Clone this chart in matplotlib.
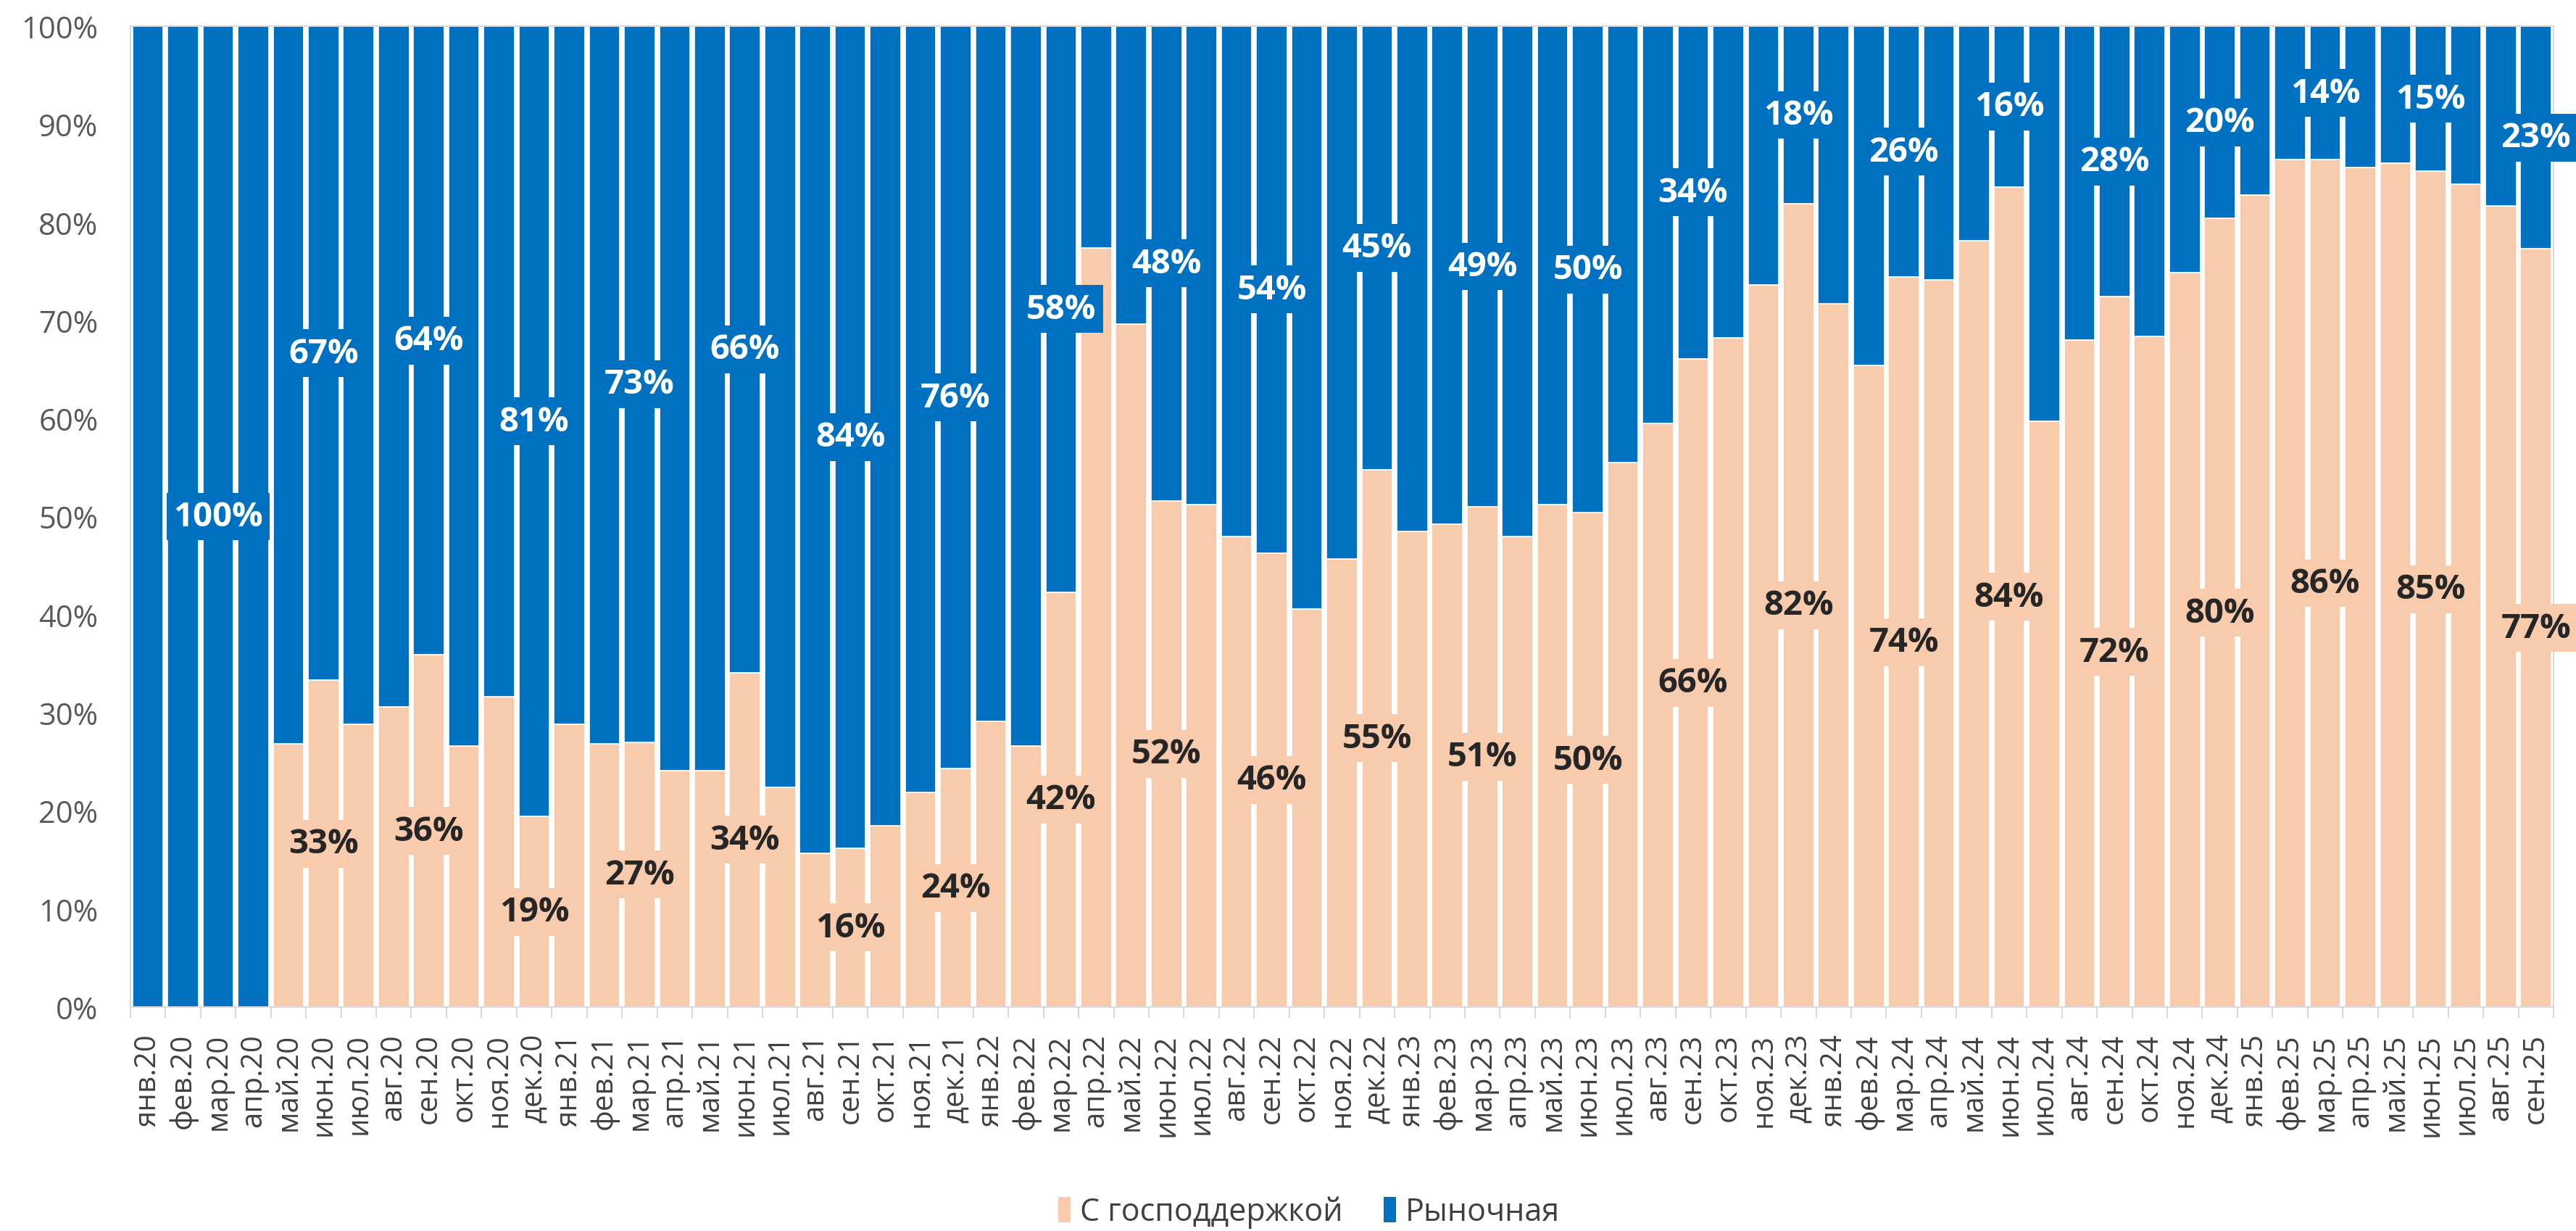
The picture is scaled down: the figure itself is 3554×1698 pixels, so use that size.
import matplotlib.pyplot as plt
from matplotlib.patches import Patch

plt.rcParams['font.family'] = ['Open Sans', 'DejaVu Sans']

months = ['янв', 'фев', 'мар', 'апр', 'май', 'июн', 'июл', 'авг', 'сен', 'окт', 'ноя', 'дек']
labels = []
for yy in range(20, 26):
    for m in months:
        labels.append(f'{m}.{yy}')
labels = labels[:69]

# доля ипотеки с господдержкой, %
state = [0, 0, 0, 0, 26.8, 33.3, 28.8, 30.6, 35.9, 26.6, 31.6, 19.4,
         28.8, 26.8, 27.0, 24.1, 24.1, 34.1, 22.4, 15.7, 16.2, 18.5, 21.9, 24.3,
         29.1, 26.6, 42.3, 77.4, 69.6, 51.6, 51.2, 48.0, 46.3, 40.6, 45.7, 54.8,
         48.5, 49.2, 51.0, 48.0, 51.2, 50.4, 55.5, 59.5, 66.1, 68.2, 73.6, 81.9,
         71.7, 65.4, 74.4, 74.1, 78.1, 83.6, 59.7, 68.0, 72.4, 68.4, 74.9, 80.4,
         82.8, 86.4, 86.4, 85.6, 86.0, 85.2, 83.9, 81.7, 77.3]
market = [100 - v for v in state]

c_state = '#F8CBAD'
c_market = '#0070C0'

fig = plt.figure(figsize=(35.55, 16.99), dpi=100)
ax = fig.add_axes([0.0506, 0.1819, 0.9404, 0.7963])

x = list(range(len(labels)))
s = [v / 100 for v in state]
m = [v / 100 for v in market]
ax.bar(x, s, width=0.88, color=c_state, edgecolor='white', linewidth=1.2)
ax.bar(x, m, width=0.88, bottom=s, color=c_market, edgecolor='white', linewidth=1.2)

# подписи на конец квартала
for i in range(2, len(labels), 3):
    if state[i] > 0:
        ax.text(i, s[i] / 2, f'{round(state[i])}%', ha='center', va='center',
                fontsize=34, fontweight='bold', color='#262626',
                bbox=dict(boxstyle='square,pad=0.2', fc=c_state, ec='none'))
    ax.text(i, s[i] + m[i] / 2, f'{round(market[i])}%', ha='center', va='center',
            fontsize=34, fontweight='bold', color='white',
            bbox=dict(boxstyle='square,pad=0.2', fc=c_market, ec='none'))

ax.set_xlim(-0.5, len(labels) - 0.5)
ax.set_ylim(0, 1)
ax.set_yticks([i / 10 for i in range(11)])
ax.set_yticklabels([f'{i * 10}%' for i in range(11)])
ax.tick_params(axis='y', length=0, pad=32, labelsize=30, labelcolor='#595959')

ax.set_xticks(x)
ax.set_xticklabels(labels, rotation=90)
ax.tick_params(axis='x', which='major', length=0, pad=26, labelsize=29, labelcolor='#404040')
ax.set_xticks([i - 0.5 for i in range(len(labels) + 1)], minor=True)
ax.tick_params(axis='x', which='minor', length=11, width=1.5, color='#D9D9D9')

for sp in ax.spines.values():
    sp.set_color('#D9D9D9')
    sp.set_linewidth(1.5)

handles = [Patch(facecolor=c_state, label='С господдержкой'),
           Patch(facecolor=c_market, label='Рыночная')]
fig.legend(handles=handles, loc='center', bbox_to_anchor=(0.508, 0.0153), ncol=2,
           frameon=False, fontsize=31, handlelength=0.4, handleheight=0.9,
           handletextpad=0.3, columnspacing=1.3, labelcolor='#404040')

fig.savefig('out.png', dpi=100)
